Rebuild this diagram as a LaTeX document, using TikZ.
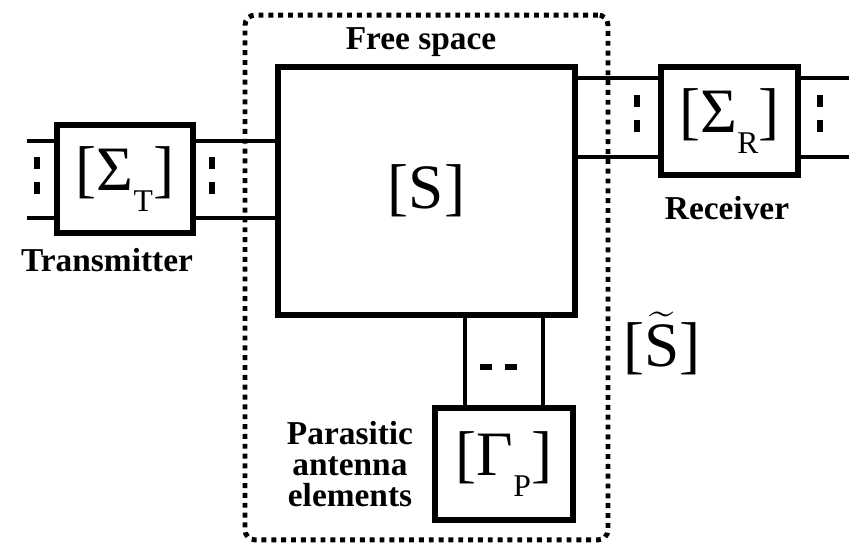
\documentclass[tikz,border=0pt]{standalone}
\usepackage{fix-cm}
\usepackage{amsmath}
\usepackage{fontspec}
\setmainfont{Liberation Serif}
\usepackage{tikz}
\usetikzlibrary{positioning,calc}
\newcommand\lowsub[1]{\raisebox{-12pt}{\fontsize{18}{18}\selectfont #1}}
\tikzset{
  blk/.style={draw,line width=3pt,inner sep=0pt,font=\fontsize{36}{40}\selectfont},
  tline/.style={line width=2.6pt},
  portdash/.style={line width=3.4pt},
  lbl/.style={font=\fontsize{19}{17.6}\selectfont\bfseries,align=center,inner sep=0pt}
}

\begin{document}
\begin{tikzpicture}[x=0.02cm,y=-0.02cm]
\useasboundingbox (0,0) rectangle (849,546);
% free-space region (dotted)
\node[draw,line width=2.8pt,dash pattern=on 2.8pt off 2.8pt,rounded corners=0.2cm,
  minimum width=7.26cm,minimum height=10.5cm] (fs) at (426.5,277.5) {};
\node[lbl] (fslbl) at (421,42) {Free space};
% blocks
\node[blk,minimum width=5.94cm,minimum height=4.96cm] (S) at (426.5,191) {[S]};
\node[blk,minimum width=2.72cm,minimum height=2.16cm] (sigT) at (125,179) {[Σ\lowsub{T}]};
\node[blk,minimum width=2.74cm,minimum height=2.16cm] (sigR) at (729.5,121) {[Σ\lowsub{R}]};
\node[blk,minimum width=2.76cm,minimum height=2.24cm] (gamP) at (504,464) {[Γ\lowsub{P}]};
% transmitter ports
\coordinate (txin1) at (27,141);
\coordinate (txin2) at (27,218);
\foreach \c in {txin1,txin2}{
  \draw[tline] (\c) -- (\c -| sigT.west);
  \draw[tline] (\c -| sigT.east) -- (\c -| S.west);
}
% receiver ports
\coordinate (rxout1) at (849,78);
\coordinate (rxout2) at (849,157);
\foreach \c in {rxout1,rxout2}{
  \draw[tline] (\c -| S.east) -- (\c -| sigR.west);
  \draw[tline] (\c -| sigR.east) -- (\c);
}
% parasitic port pair
\foreach \dx in {-39,39}
  \draw[tline] (gamP.north) ++(\dx,0) coordinate (pp) -- (pp |- S.south);
% "more ports" dashes
\foreach \x in {37,212}
  \foreach \y in {157,182}
    \draw[portdash] (\x,\y) -- ++(0,12);
\foreach \x in {637,820}
  \foreach \y in {95,120}
    \draw[portdash] (\x,\y) -- ++(0,12);
\foreach \x in {480,505}
  \draw[portdash] (\x,367) -- ++(12,0);
% labels
\node[lbl] (txlbl) at (107,260) {Transmitter};
\node[lbl] (rxlbl) at (727,208) {Receiver};
\node[lbl] (parlbl) at (350,464) {Parasitic\\antenna\\elements};
\node[font=\fontsize{36}{40}\selectfont] (Stl) at (662,343) {[$\widetilde{\mathrm{S}}$]};
\end{tikzpicture}
\end{document}
